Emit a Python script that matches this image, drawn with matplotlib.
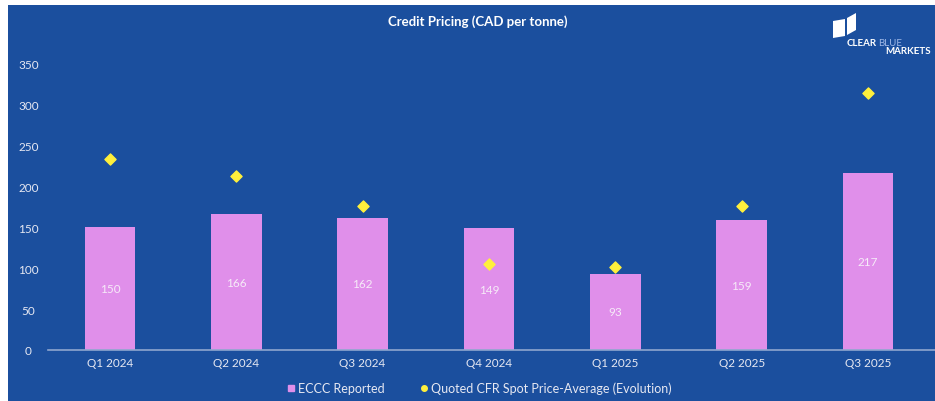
import matplotlib
matplotlib.use("Agg")
import matplotlib.pyplot as plt
from matplotlib.patches import Rectangle, Polygon
from matplotlib.lines import Line2D

quarters = ["Q1 2024", "Q2 2024", "Q3 2024", "Q4 2024", "Q1 2025", "Q2 2025", "Q3 2025"]
eccc_reported = [150, 166, 162, 149, 93, 159, 217]
spot_avg = [234, 213, 176, 105, 102, 176, 314]

BG = "#1B4F9E"
BAR = "#E08FEA"
DIAMOND = "#FFF03C"
TXT = "#E6E8F2"

plt.rcParams["font.family"] = ["Lato", "DejaVu Sans"]

fig = plt.figure(figsize=(9.35, 4.02), dpi=100, facecolor="white")
# blue panel with a thin white margin at top/left, like the screenshot
fig.patches.append(Rectangle((8 / 935, 0), 1, 396 / 402, transform=fig.transFigure,
                             facecolor=BG, edgecolor="none", zorder=-10))

ax = fig.add_axes([48 / 935, 51 / 402, 887 / 935, 300 / 402])
ax.set_facecolor("none")
ax.set_zorder(2)

x = range(len(quarters))
bars = ax.bar(x, eccc_reported, width=0.4, color=BAR, zorder=2)
ax.scatter(x, spot_avg, marker="D", s=32, color=DIAMOND, zorder=3)

for xi, v in zip(x, eccc_reported):
    ax.text(xi, v / 2, str(v), ha="center", va="center", color="#F6EAF8", fontsize=8.5)

ax.set_xlim(-0.49, 6.53)
ax.set_ylim(0, 367)
ax.set_yticks(range(0, 351, 50))
ax.set_xticks(list(x))
ax.set_xticklabels(quarters)
ax.tick_params(axis="both", length=0, colors=TXT, labelsize=8.5)
ax.tick_params(axis="y", pad=14)
ax.tick_params(axis="x", pad=5)
for lbl in ax.get_yticklabels():
    lbl.set_horizontalalignment("center")
for s in ["top", "right", "left"]:
    ax.spines[s].set_visible(False)
ax.spines["bottom"].set_color("#8FA6CF")
ax.spines["bottom"].set_linewidth(1.2)

fig.text(478 / 935, 1 - 22 / 402, "Credit Pricing (CAD per tonne)", ha="center", va="center",
         color="white", fontsize=9.5, fontweight="bold")

# simple logo
fig.patches.append(Polygon([(833 / 935, 1 - 22 / 402), (845 / 935, 1 - 20 / 402),
                            (845 / 935, 1 - 37 / 402), (833 / 935, 1 - 39 / 402)],
                           closed=True, transform=fig.transFigure, facecolor="white", edgecolor="none"))
fig.patches.append(Polygon([(847 / 935, 1 - 19 / 402), (856 / 935, 1 - 14 / 402),
                            (856 / 935, 1 - 31 / 402), (847 / 935, 1 - 36 / 402)],
                           closed=True, transform=fig.transFigure, facecolor="white", edgecolor="none"))
fig.text(847 / 935, 1 - 43 / 402, "CLEAR", ha="left", va="center", color="white",
         fontsize=7, fontweight="bold")
fig.text(878 / 935, 1 - 43 / 402, "BLUE", ha="left", va="center", color="#9FB8E6", fontsize=7)
fig.text(931 / 935, 1 - 52 / 402, "MARKETS", ha="right", va="center", color="white",
         fontsize=7, fontweight="bold")

handles = [
    Line2D([], [], marker="s", linestyle="none", color=BAR, markersize=5),
    Line2D([], [], marker="o", linestyle="none", color=DIAMOND, markersize=4),
]
leg = fig.legend(handles, ["ECCC Reported", "Quoted CFR Spot Price-Average (Evolution)"],
                 loc="center", bbox_to_anchor=(478 / 935, 1 - 389 / 402), ncol=2, frameon=False,
                 fontsize=9, handletextpad=0.1, columnspacing=2.6, handlelength=1.0)
for t in leg.get_texts():
    t.set_color(TXT)

fig.savefig("out.png", dpi=100, facecolor=fig.get_facecolor())
